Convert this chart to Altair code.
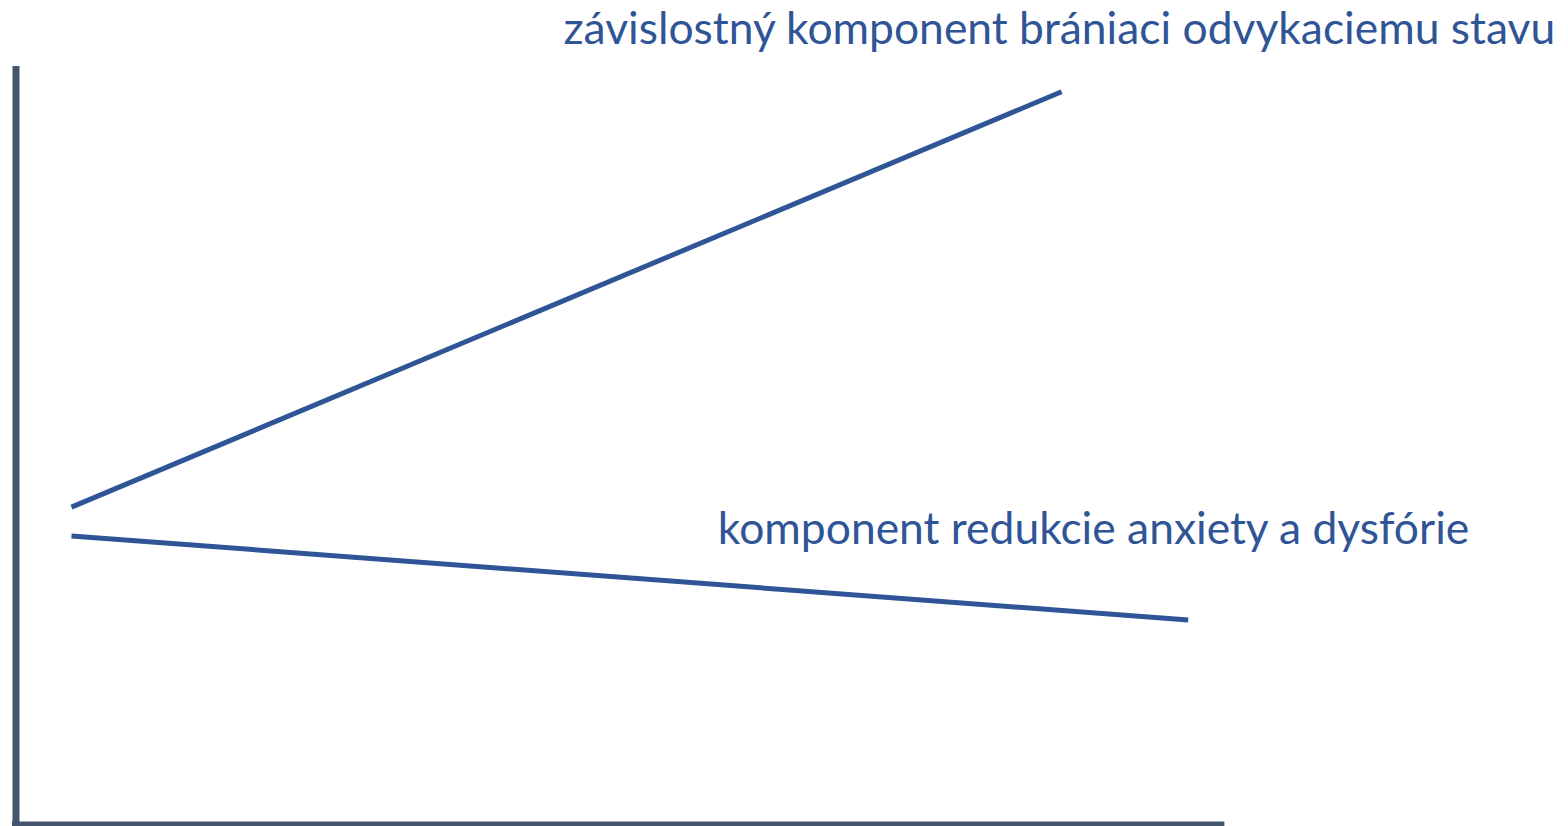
import altair as alt
import pandas as pd

# Series (axis units: x 0..100 along horizontal axis, y 0..100 along vertical axis)
series = ["závislostný komponent brániaci odvykaciemu stavu",
          "komponent redukcie anxiety a dysfórie"]
x_start = [4.6, 4.6]
x_end = [86.7, 97.2]
y_start = [41.8, 38.0]
y_end = [96.6, 26.9]

# Label anchors
label_x = [45.4, 58.2]
label_y = [102.9, 36.9]

rows = []
for s, xs_, xe, ys_, ye in zip(series, x_start, x_end, y_start, y_end):
    rows.append({"series": s, "x": xs_, "y": ys_, "order": 0})
    rows.append({"series": s, "x": xe, "y": ye, "order": 1})
lines_df = pd.DataFrame(rows)
labels_df = pd.DataFrame({"series": series, "x": label_x, "y": label_y})

LINE = "#2F5597"
AXIS = "#44546A"

xs = alt.Scale(domain=[-0.663, 128.03], nice=False, zero=False)
ys = alt.Scale(domain=[-0.27, 107.65], nice=False, zero=False)

lines = alt.Chart(lines_df).mark_line(strokeWidth=5, strokeCap="butt", color=LINE).encode(
    x=alt.X("x:Q", scale=xs, axis=None),
    y=alt.Y("y:Q", scale=ys, axis=None),
    detail="series:N",
    order="order:Q",
)

labels = alt.Chart(labels_df).mark_text(
    align="left", baseline="alphabetic", font="Lato", fontSize=44.4, color=LINE
).encode(
    x=alt.X("x:Q", scale=xs, axis=None),
    y=alt.Y("y:Q", scale=ys, axis=None),
    text="series:N",
)

vaxis_df = pd.DataFrame({"x": [0.0], "y": [-0.27], "y2": [100.0]})
haxis_df = pd.DataFrame({"x": [-0.33], "x2": [100.2], "y": [0.0]})

vaxis = alt.Chart(vaxis_df).mark_rule(strokeWidth=7, color=AXIS, strokeCap="butt").encode(
    x=alt.X("x:Q", scale=xs, axis=None),
    y=alt.Y("y:Q", scale=ys, axis=None),
    y2="y2:Q",
)
haxis = alt.Chart(haxis_df).mark_rule(strokeWidth=5, color=AXIS, strokeCap="butt").encode(
    x=alt.X("x:Q", scale=xs, axis=None),
    x2="x2:Q",
    y=alt.Y("y:Q", scale=ys, axis=None),
)

chart = alt.layer(vaxis, haxis, lines, labels).properties(
    width=1552, height=818,
    autosize=alt.AutoSizeParams(type="none"),
    padding=0,
).configure_view(stroke=None)

chart.save("out.html", embed_options={"renderer": "svg", "actions": False})
